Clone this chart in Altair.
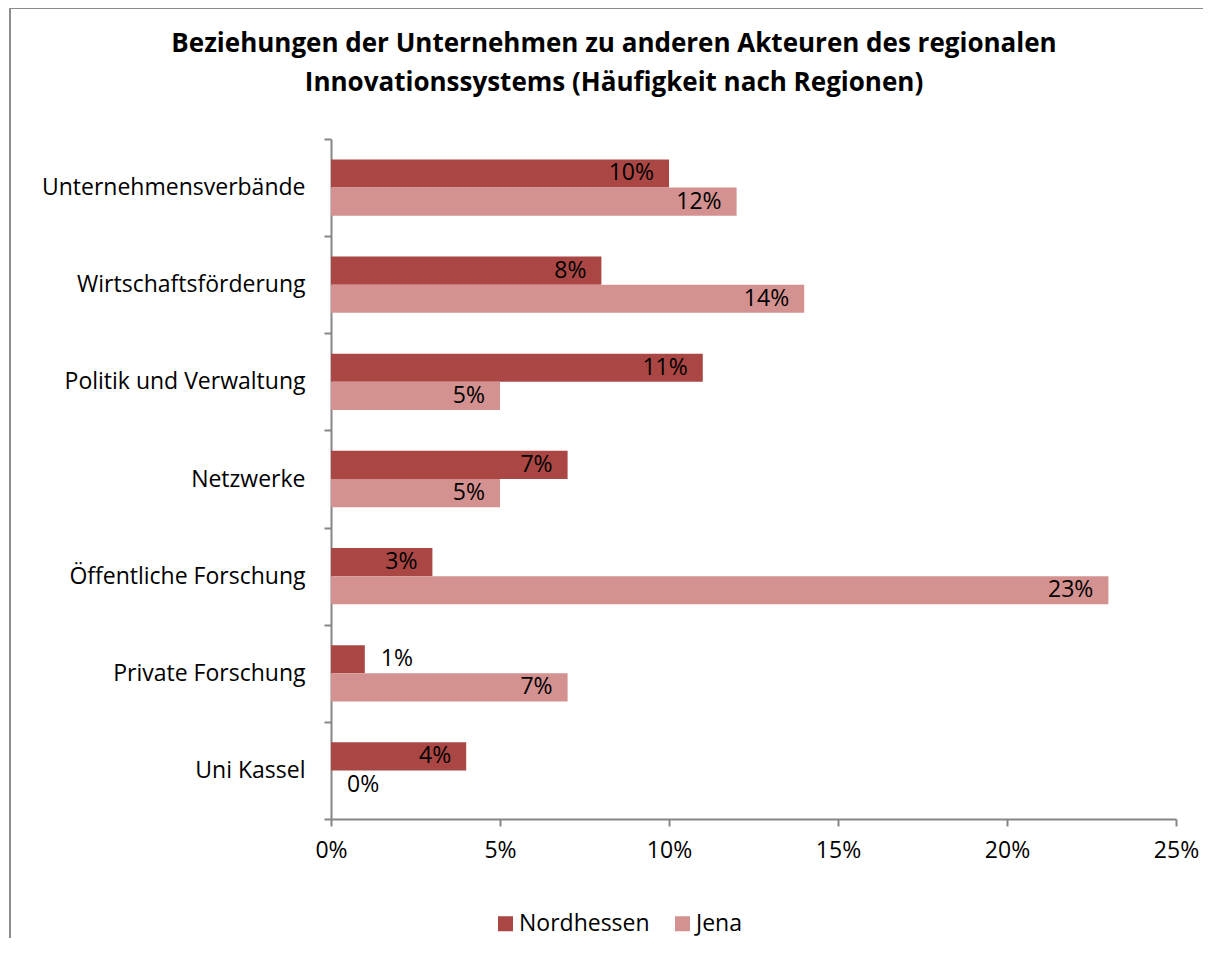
import altair as alt
import pandas as pd

categories = ["Unternehmensverbände", "Wirtschaftsförderung", "Politik und Verwaltung",
              "Netzwerke", "Öffentliche Forschung", "Private Forschung", "Uni Kassel"]
nordhessen = [10, 8, 11, 7, 3, 1, 4]
jena = [12, 14, 5, 5, 23, 7, 0]
series = ["Nordhessen", "Jena"]
colors = ["#AA4744", "#D39190"]
x_ticks = [0, 5, 10, 15, 20, 25]
title_lines = ["Beziehungen der Unternehmen zu anderen Akteuren des regionalen",
               "Innovationssystems (Häufigkeit nach Regionen)"]

rows = []
for c, n, j in zip(categories, nordhessen, jena):
    rows.append({"cat": c, "series": "Nordhessen", "v": n})
    rows.append({"cat": c, "series": "Jena", "v": j})
df = pd.DataFrame(rows)

W, H = 845, 680
FONT = "Open Sans"
GRAY = "#868686"
FS = 23

base = alt.Chart(df).transform_calculate(frac="datum.v/100", lab="datum.v + '%'")

y_enc = alt.Y("cat:N", sort=categories, title=None,
              scale=alt.Scale(paddingInner=0, paddingOuter=0),
              axis=alt.Axis(labelFontSize=FS, labelFont=FONT, labelColor="#000000",
                            tickSize=7, labelPadding=19, tickBand="extent",
                            domainColor=GRAY, tickColor=GRAY, domainWidth=2, tickWidth=2,
                            labelLimit=400))
yoff = alt.YOffset("series:N", sort=series,
                   scale=alt.Scale(paddingInner=0, paddingOuter=0.725))
x_enc = alt.X("frac:Q", title=None,
              scale=alt.Scale(domain=[0, 0.25], nice=False),
              axis=alt.Axis(values=[t / 100 for t in x_ticks], format="%", grid=False,
                            labelFontSize=FS, labelFont=FONT, labelColor="#000000",
                            tickSize=7, labelPadding=13, labelFlush=False,
                            domainColor=GRAY, tickColor=GRAY, domainWidth=2, tickWidth=2))

bars = base.mark_bar().encode(
    y=y_enc, yOffset=yoff, x=x_enc,
    color=alt.Color("series:N", sort=series,
                    scale=alt.Scale(domain=series, range=colors),
                    legend=alt.Legend(title=None, orient="none", legendX=163, legendY=773,
                                      direction="horizontal", symbolType="square",
                                      symbolSize=225, symbolStrokeWidth=0,
                                      labelFontSize=FS, labelFont=FONT, labelColor="#000000",
                                      labelOffset=2, columnPadding=21)),
)

text_in = base.transform_filter("datum.v >= 2").mark_text(
    align="right", baseline="middle", dx=-15, font=FONT, fontSize=FS, color="#000000"
).encode(y=y_enc, yOffset=yoff, x=x_enc, text="lab:N")

text_out = base.transform_filter("datum.v < 2").mark_text(
    align="left", baseline="middle", dx=16, font=FONT, fontSize=FS, color="#000000"
).encode(y=y_enc, yOffset=yoff, x=x_enc, text="lab:N")

border = alt.Chart(pd.DataFrame({"a": [0]})).mark_rect(
    filled=False, stroke="#8C8C8C", strokeWidth=2
).encode(x=alt.value(-321), x2=alt.value(3000), y=alt.value(-131), y2=alt.value(3000))

title = alt.Chart(pd.DataFrame({"a": [0]})).mark_text(
    align="center", baseline="alphabetic", font=FONT, fontSize=26, fontWeight="bold",
    color="#000000", lineHeight=39
).encode(x=alt.value(283), y=alt.value(-87), text=alt.value(title_lines))

chart = alt.layer(border, title, bars, text_in, text_out).properties(
    width=W, height=H,
    padding={"left": 323, "top": 131, "right": 27, "bottom": 119},
    autosize=alt.AutoSizeParams(type="none"),
    background="#FFFFFF",
).configure_view(stroke=None)

chart.save("out.html", embed_options={"renderer": "svg", "actions": False})
